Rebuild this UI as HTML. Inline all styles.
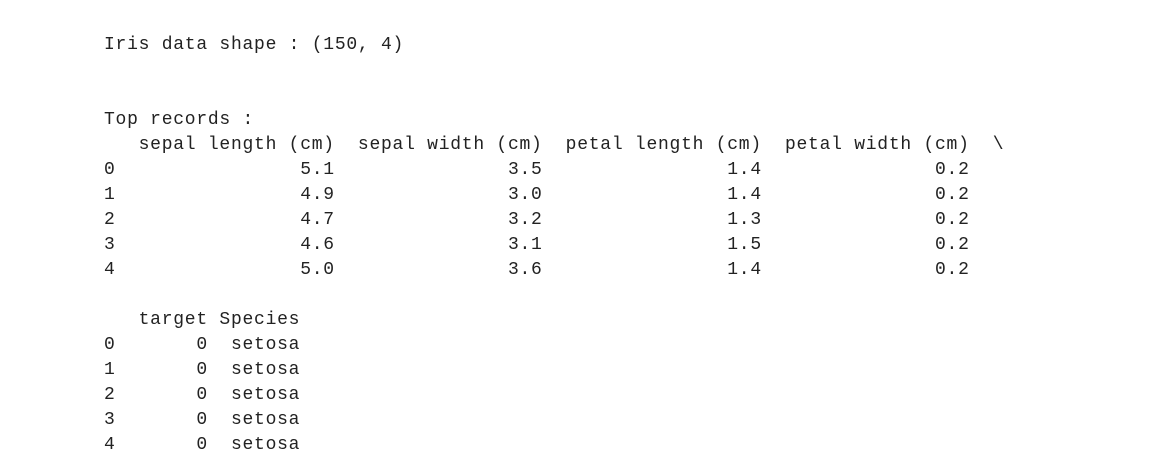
<!DOCTYPE html>
<html>
<head>
<meta charset="utf-8">
<style>
  html,body{margin:0;padding:0;background:#fff;width:1149px;height:458px;overflow:hidden;}
  pre{
    position:absolute;left:104px;top:33px;margin:0;
    font-family:"Liberation Mono","DejaVu Sans Mono",monospace;
    font-size:18px;letter-spacing:0.74px;line-height:25px;color:#222;
  }
</style>
</head>
<body>
<pre>Iris data shape : (150, 4)


Top records :
   sepal length (cm)  sepal width (cm)  petal length (cm)  petal width (cm)  \
0                5.1               3.5                1.4               0.2
1                4.9               3.0                1.4               0.2
2                4.7               3.2                1.3               0.2
3                4.6               3.1                1.5               0.2
4                5.0               3.6                1.4               0.2

   target Species
0       0  setosa
1       0  setosa
2       0  setosa
3       0  setosa
4       0  setosa</pre>
</body>
</html>
